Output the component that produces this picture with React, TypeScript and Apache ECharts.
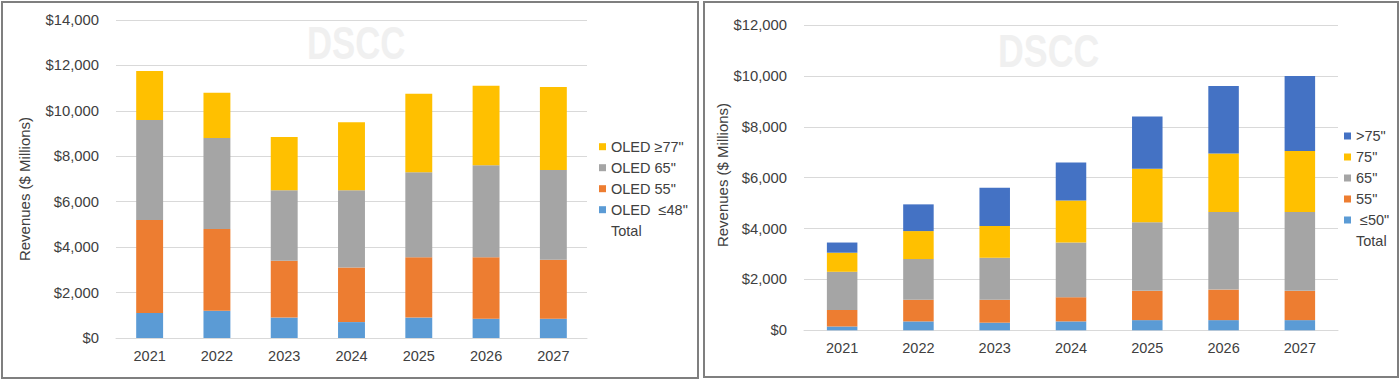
import React, { useEffect, useRef } from 'react';
import * as echarts from 'echarts';

// ---- Data ----
const years = ['2021', '2022', '2023', '2024', '2025', '2026', '2027'];

// Left chart: OLED TV revenues by size ($ Millions)
const oledLE48 = [1100, 1200, 900, 700, 900, 850, 850];
const oled55 = [4100, 3600, 2500, 2400, 2650, 2700, 2600];
const oled65 = [4400, 4000, 3100, 3400, 3750, 4050, 3950];
const oledGE77 = [2150, 2000, 2350, 3000, 3450, 3500, 3650];
const oledTotal = [11750, 10800, 8850, 9500, 10750, 11100, 11050];

// Right chart: revenues by size ($ Millions)
const sLE50 = [150, 350, 300, 350, 400, 400, 400];
const s55 = [650, 850, 900, 950, 1150, 1200, 1150];
const s65 = [1500, 1600, 1650, 2150, 2700, 3050, 3100];
const s75 = [750, 1100, 1250, 1650, 2100, 2300, 2400];
const sGT75 = [400, 1050, 1500, 1500, 2050, 2650, 2950];
const sTotal = [3450, 4950, 5600, 6600, 8400, 9600, 10000];

const leftNames = ['OLED ≥77"', 'OLED 65"', 'OLED 55"', 'OLED  ≤48"', 'Total'];
const rightNames = ['>75"', '75"', '65"', '55"', ' ≤50"', 'Total'];

const FONT = '"Liberation Sans", Arial, sans-serif';
const TXT = '#404040';
const GRIDC = '#d9d9d9';
const C_BLUE = '#5b9bd5';
const C_ORANGE = '#ed7d31';
const C_GRAY = '#a5a5a5';
const C_YELLOW = '#ffc000';
const C_DBLUE = '#4472c4';
const CLEAR = 'rgba(0,0,0,0)';

const fmt = (v: number) => '$' + v.toLocaleString('en-US');

function xAxisFor(i: number) {
  return {
    type: 'category',
    gridIndex: i,
    data: years,
    axisLine: { lineStyle: { color: GRIDC, width: 1 } },
    axisTick: { show: false },
    axisLabel: { color: TXT, fontSize: 14.5, margin: 10, fontFamily: FONT },
  };
}

function yAxisFor(i: number, max: number) {
  return {
    type: 'value',
    gridIndex: i,
    min: 0,
    max,
    interval: 2000,
    axisLine: { show: false },
    axisTick: { show: false },
    splitLine: { lineStyle: { color: GRIDC, width: 1 } },
    axisLabel: { color: TXT, fontSize: 14.8, margin: 17, fontFamily: FONT, formatter: fmt },
  };
}

function bar(name: string, data: number[], color: string, idx: number, stack: string) {
  return {
    name,
    type: 'bar',
    stack,
    xAxisIndex: idx,
    yAxisIndex: idx,
    barWidth: '40%',
    data,
    itemStyle: { color },
  };
}

function totalSeries(data: number[], idx: number) {
  return {
    name: 'Total',
    type: 'line',
    xAxisIndex: idx,
    yAxisIndex: idx,
    data,
    symbol: 'none',
    silent: true,
    lineStyle: { color: CLEAR, width: 0 },
    itemStyle: { color: CLEAR },
  };
}

function legendFor(left: number, top: number, names: string[]) {
  return {
    orient: 'vertical',
    left,
    top,
    padding: 0,
    itemWidth: 7,
    itemHeight: 7,
    itemGap: 5,
    icon: 'rect',
    selectedMode: false,
    textStyle: { color: TXT, fontSize: 14.5, fontFamily: FONT, lineHeight: 16 },
    data: names.map((n) =>
      n === 'Total'
        ? { name: n, icon: 'rect', itemStyle: { color: CLEAR, borderColor: CLEAR }, lineStyle: { color: CLEAR, width: 0 } }
        : n
    ),
  };
}

const option: any = {
  animation: false,
  textStyle: { fontFamily: FONT },
  grid: [
    { left: 116, top: 20, width: 471, height: 318 },
    { left: 804, top: 25, width: 534, height: 305.3 },
  ],
  xAxis: [xAxisFor(0), xAxisFor(1)],
  yAxis: [yAxisFor(0, 14000), yAxisFor(1, 12000)],
  legend: [legendFor(599, 138.7, leftNames), legendFor(1344, 128, rightNames)],
  graphic: [
    {
      type: 'rect',
      silent: true,
      shape: { x: 2, y: 2, width: 696, height: 376 },
      style: { fill: 'none', stroke: '#7f7f7f', lineWidth: 2 },
    },
    {
      type: 'rect',
      silent: true,
      shape: { x: 704, y: 2, width: 694, height: 375 },
      style: { fill: 'none', stroke: '#7f7f7f', lineWidth: 2 },
    },
    {
      type: 'text',
      silent: true,
      x: 307,
      y: 43.5,
      scaleX: 0.755,
      z: -1,
      style: { text: 'DSCC', fill: '#f0f0f0', font: `bold 46px ${FONT}`, align: 'left', verticalAlign: 'middle' },
    },
    {
      type: 'text',
      silent: true,
      x: 998,
      y: 51.7,
      scaleX: 0.777,
      z: -1,
      style: { text: 'DSCC', fill: '#f0f0f0', font: `bold 46px ${FONT}`, align: 'left', verticalAlign: 'middle' },
    },
    {
      type: 'text',
      silent: true,
      x: 24,
      y: 189,
      rotation: Math.PI / 2,
      style: { text: 'Revenues ($ Millions)', fill: TXT, font: `15px ${FONT}`, align: 'center', verticalAlign: 'middle' },
    },
    {
      type: 'text',
      silent: true,
      x: 722,
      y: 175,
      rotation: Math.PI / 2,
      style: { text: 'Revenues ($ Millions)', fill: TXT, font: `15px ${FONT}`, align: 'center', verticalAlign: 'middle' },
    },
  ],
  series: [
    bar('OLED  ≤48"', oledLE48, C_BLUE, 0, 'L'),
    bar('OLED 55"', oled55, C_ORANGE, 0, 'L'),
    bar('OLED 65"', oled65, C_GRAY, 0, 'L'),
    bar('OLED ≥77"', oledGE77, C_YELLOW, 0, 'L'),
    totalSeries(oledTotal, 0),
    bar(' ≤50"', sLE50, C_BLUE, 1, 'R'),
    bar('55"', s55, C_ORANGE, 1, 'R'),
    bar('65"', s65, C_GRAY, 1, 'R'),
    bar('75"', s75, C_YELLOW, 1, 'R'),
    bar('>75"', sGT75, C_DBLUE, 1, 'R'),
    totalSeries(sTotal, 1),
  ],
};

export default function App() {
  const ref = useRef<HTMLDivElement>(null);
  useEffect(() => {
    if (!ref.current) return;
    const chart = echarts.init(ref.current, null, { renderer: 'svg' });
    chart.setOption(option);
    return () => chart.dispose();
  }, []);
  return (
    <div
      ref={ref}
      style={{ position: 'absolute', left: 0, top: 0, width: 1400, height: 379, background: '#ffffff' }}
    />
  );
}
